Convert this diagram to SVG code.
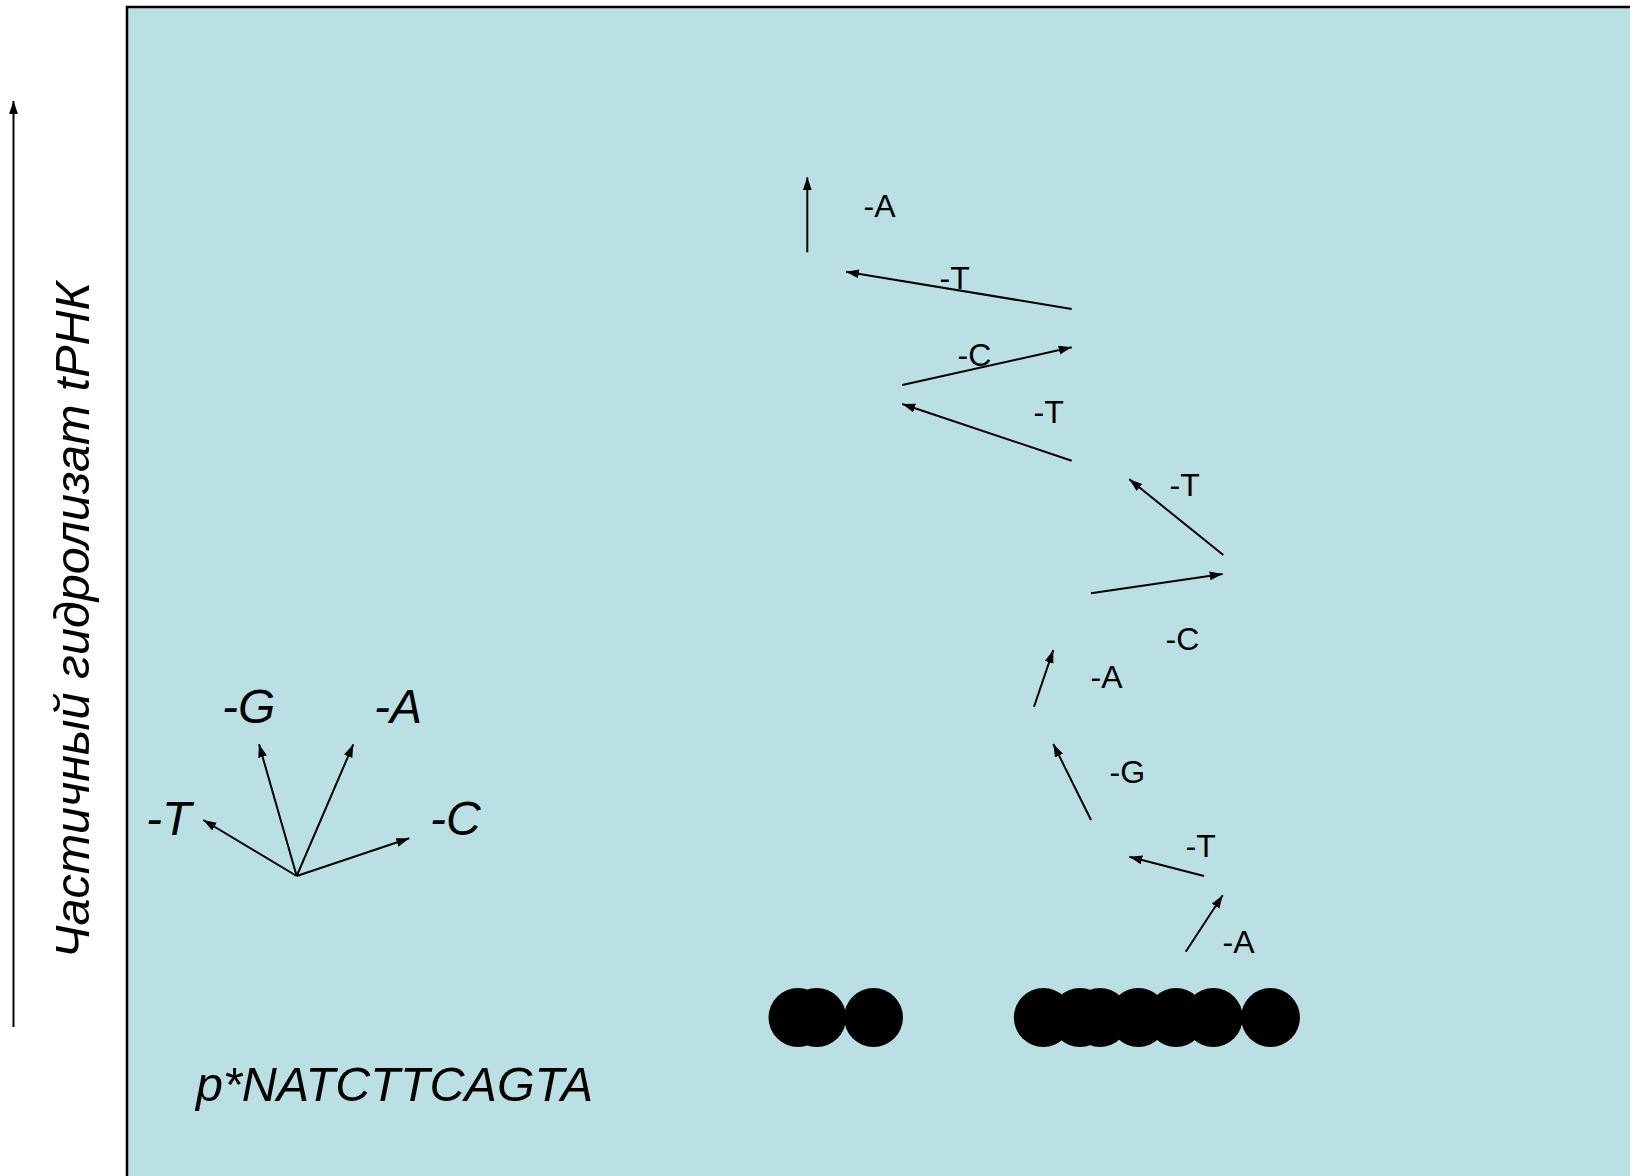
<svg xmlns="http://www.w3.org/2000/svg" width="1630" height="1176" viewBox="0 0 1630 1176">
<defs>
<style>
.ln{stroke:#000;stroke-width:2;fill:none;marker-end:url(#ah)}
.sm{font-family:"Liberation Sans",Arial,sans-serif;font-size:32px;fill:#000}
.bg{font-family:"Liberation Sans",Arial,sans-serif;font-size:48px;font-style:italic;fill:#000}
.dot{fill:#000}
</style>
<marker id="ah" markerUnits="userSpaceOnUse" markerWidth="14" markerHeight="10" refX="13" refY="4.5" orient="auto">
<path d="M0,0 L13,4.5 L0,9 z" fill="#000"/>
</marker>
</defs>
<rect width="1630" height="1176" fill="#fff"/>
<rect id="panel" x="127" y="7" width="1520" height="1190" fill="#BAE0E3" stroke="#000" stroke-width="2.5"/>
<g id="axis">
<line class="ln" x1="13.5" y1="1027" x2="13.5" y2="101" stroke-width="1.5"/>
<text class="bg" transform="translate(89,620) rotate(-90)" text-anchor="middle" style="font-size:48.5px">Частичный гидролизат tРНК</text>
</g>
<g id="connectors">
<line class="ln" x1="807.3" y1="252.3" x2="807.3" y2="177.3"/>
<line class="ln" x1="1071.7" y1="309" x2="846" y2="271.7"/>
<line class="ln" x1="902.3" y1="385" x2="1071.7" y2="347.3"/>
<line class="ln" x1="1071.7" y1="460.7" x2="902.3" y2="404"/>
<line class="ln" x1="1223.3" y1="555" x2="1129.3" y2="479.3"/>
<line class="ln" x1="1091" y1="593.3" x2="1222.7" y2="574"/>
<line class="ln" x1="1034" y1="706.7" x2="1053.3" y2="650"/>
<line class="ln" x1="1091" y1="820" x2="1053.3" y2="744"/>
<line class="ln" x1="1204" y1="876" x2="1129.3" y2="856.7"/>
<line class="ln" x1="1185.7" y1="951.7" x2="1222.7" y2="895.3"/>
<line class="ln" x1="296.7" y1="876" x2="203.3" y2="820"/>
<line class="ln" x1="296.7" y1="876" x2="259" y2="744.3"/>
<line class="ln" x1="296.7" y1="876" x2="353.3" y2="744.3"/>
<line class="ln" x1="296.7" y1="876" x2="409.3" y2="838.3"/>
</g>
<g id="labels">
<text class="sm" x="863.5" y="217">-A</text>
<text class="sm" x="939.5" y="289">-T</text>
<text class="sm" x="957.5" y="366">-C</text>
<text class="sm" x="1033.5" y="423">-T</text>
<text class="sm" x="1169.5" y="496">-T</text>
<text class="sm" x="1165.5" y="650">-C</text>
<text class="sm" x="1090.5" y="688">-A</text>
<text class="sm" x="1109.5" y="783">-G</text>
<text class="sm" x="1185.5" y="857">-T</text>
<text class="sm" x="1222.5" y="953">-A</text>
</g>
<g id="legend">
<text class="bg" x="222" y="723">-G</text>
<text class="bg" x="374" y="723">-A</text>
<text class="bg" x="146" y="835">-T</text>
<text class="bg" x="430" y="835">-C</text>
<text class="bg" x="196" y="1101" style="font-size:48.5px">p*NATCTTCAGTA</text>
</g>
<g id="spots-left">
<circle class="dot" cx="798" cy="1017.5" r="29.5"/>
<circle class="dot" cx="816.7" cy="1017.5" r="29.5"/>
<circle class="dot" cx="873.5" cy="1017.5" r="29.5"/>
</g>
<g id="spots-right">
<circle class="dot" cx="1043.3" cy="1017.5" r="29.5"/>
<circle class="dot" cx="1080" cy="1017.5" r="29.5"/>
<circle class="dot" cx="1100" cy="1017.5" r="29.5"/>
<circle class="dot" cx="1138.3" cy="1017.5" r="29.5"/>
<circle class="dot" cx="1176" cy="1017.5" r="29.5"/>
<circle class="dot" cx="1213.3" cy="1017.5" r="29.5"/>
<circle class="dot" cx="1270.5" cy="1017.5" r="29.5"/>
</g>
</svg>
